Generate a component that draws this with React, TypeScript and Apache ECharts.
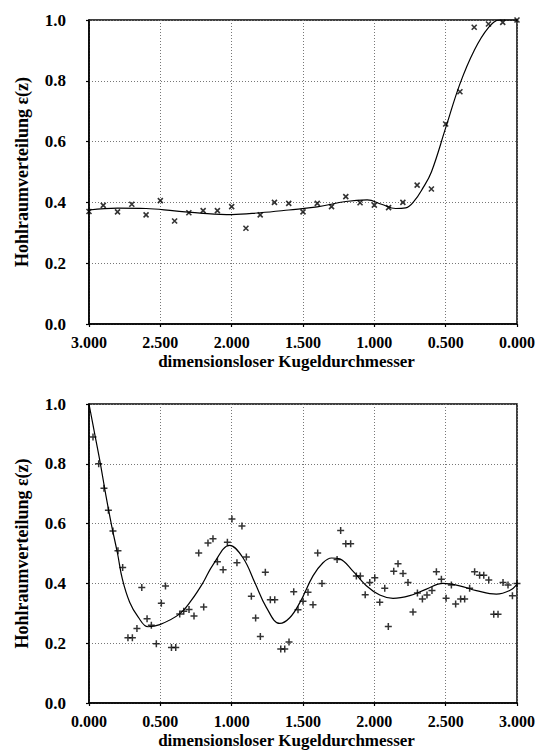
import React, { useEffect, useRef } from "react";
import * as echarts from "echarts";

// ---------- Top chart (distance measured from the wall, axis reversed) ----------
const topDistance = [3.0, 2.9, 2.8, 2.7, 2.6, 2.5, 2.4, 2.3, 2.2, 2.1, 2.0, 1.9, 1.8, 1.7, 1.6, 1.5, 1.4, 1.3, 1.2, 1.1, 1.0, 0.9, 0.8, 0.7, 0.6, 0.5, 0.4, 0.3, 0.2, 0.1, 0.0];
const topVoidage = [0.37, 0.39, 0.369, 0.394, 0.359, 0.406, 0.339, 0.366, 0.373, 0.373, 0.386, 0.315, 0.359, 0.4, 0.397, 0.369, 0.397, 0.386, 0.419, 0.399, 0.391, 0.383, 0.4, 0.457, 0.444, 0.658, 0.764, 0.976, 0.987, 0.992, 1.0];
const topFitX = [3.0, 2.8, 2.6, 2.4, 2.2, 2.0, 1.8, 1.6, 1.4, 1.2, 1.05, 0.95, 0.85, 0.78, 0.72, 0.66, 0.6, 0.5, 0.4, 0.3, 0.2, 0.12, 0.0];
const topFitY = [0.375, 0.381, 0.38, 0.372, 0.364, 0.36, 0.366, 0.375, 0.385, 0.403, 0.408, 0.394, 0.38, 0.382, 0.405, 0.447, 0.5, 0.645, 0.79, 0.9, 0.975, 1.0, 1.0];

// ---------- Bottom chart ----------
const botDistance = [0.028, 0.068, 0.105, 0.136, 0.168, 0.203, 0.236, 0.273, 0.304, 0.336, 0.37, 0.407, 0.437, 0.472, 0.507, 0.536, 0.578, 0.608, 0.636, 0.664, 0.701, 0.736, 0.769, 0.804, 0.834, 0.869, 0.9, 0.94, 0.97, 1.002, 1.037, 1.072, 1.103, 1.138, 1.168, 1.201, 1.236, 1.271, 1.302, 1.344, 1.372, 1.402, 1.435, 1.465, 1.5, 1.535, 1.57, 1.603, 1.633, 1.739, 1.764, 1.8, 1.834, 1.874, 1.902, 1.936, 1.968, 2.003, 2.038, 2.073, 2.098, 2.136, 2.166, 2.201, 2.236, 2.271, 2.302, 2.337, 2.369, 2.404, 2.435, 2.47, 2.503, 2.54, 2.57, 2.605, 2.633, 2.668, 2.703, 2.738, 2.767, 2.802, 2.837, 2.867, 2.902, 2.937, 2.968, 3.0];
const botVoidage = [0.89, 0.8, 0.718, 0.645, 0.575, 0.509, 0.453, 0.218, 0.218, 0.249, 0.386, 0.282, 0.26, 0.198, 0.334, 0.391, 0.186, 0.186, 0.298, 0.307, 0.313, 0.291, 0.502, 0.321, 0.535, 0.549, 0.472, 0.446, 0.538, 0.615, 0.469, 0.592, 0.488, 0.357, 0.284, 0.222, 0.437, 0.345, 0.345, 0.181, 0.181, 0.204, 0.372, 0.312, 0.34, 0.37, 0.329, 0.502, 0.4, 0.48, 0.577, 0.533, 0.533, 0.425, 0.425, 0.362, 0.403, 0.419, 0.337, 0.384, 0.256, 0.441, 0.466, 0.433, 0.403, 0.304, 0.368, 0.348, 0.361, 0.376, 0.439, 0.414, 0.35, 0.395, 0.331, 0.348, 0.348, 0.384, 0.439, 0.427, 0.427, 0.411, 0.297, 0.297, 0.403, 0.395, 0.359, 0.4];
const botFitX = [0.0, 0.04, 0.08, 0.12, 0.16, 0.2, 0.234, 0.285, 0.344, 0.414, 0.496, 0.636, 0.717, 0.8, 0.87, 0.986, 1.08, 1.162, 1.243, 1.337, 1.407, 1.477, 1.57, 1.64, 1.7, 1.757, 1.85, 1.944, 2.038, 2.131, 2.248, 2.365, 2.481, 2.598, 2.715, 2.855, 2.949, 3.0];
const botFitY = [1.0, 0.9, 0.8, 0.69, 0.59, 0.5, 0.414, 0.337, 0.288, 0.255, 0.262, 0.298, 0.343, 0.403, 0.463, 0.527, 0.485, 0.403, 0.32, 0.266, 0.285, 0.335, 0.425, 0.469, 0.485, 0.482, 0.441, 0.392, 0.361, 0.35, 0.359, 0.381, 0.4, 0.392, 0.376, 0.364, 0.376, 0.397];

const xTitle = "dimensionsloser Kugeldurchmesser";
const yTitle = "Hohlraumverteilung ε(z)";

const FONT = "'Liberation Serif', 'Times New Roman', serif";
const CROSS = "path://M0,0L10,10M10,0L0,10";
const PLUS = "path://M5,0L5,10M0,5L10,5";

const zip = (xs: number[], ys: number[]) => xs.map((x, i) => [x, ys[i]]);

function xAxis(gridIndex: number, inverse: boolean) {
  return {
    type: "value",
    gridIndex,
    min: 0,
    max: 3,
    interval: 0.5,
    inverse,
    name: xTitle,
    nameLocation: "middle",
    nameGap: 29,
    nameTextStyle: {
      fontFamily: FONT,
      fontWeight: "bold",
      fontSize: 17,
      color: "#000",
      padding: [0, 33, 0, 0],
    },
    axisLine: { show: true, onZero: false, lineStyle: { color: "#000", width: 1.5 } },
    axisTick: { show: true, inside: false, length: 3, lineStyle: { color: "#000", width: 1.2 } },
    axisLabel: {
      margin: 10,
      fontFamily: FONT,
      fontWeight: "bold",
      fontSize: 16,
      color: "#000",
      formatter: (v: number) => v.toFixed(3),
    },
    splitLine: { show: true, lineStyle: { color: "#777", type: [1, 2], width: 1 } },
  };
}

function yAxis(gridIndex: number) {
  return {
    type: "value",
    gridIndex,
    min: 0,
    max: 1,
    interval: 0.2,
    name: yTitle,
    nameLocation: "middle",
    nameGap: 58,
    nameTextStyle: { fontFamily: FONT, fontWeight: "bold", fontSize: 18, color: "#000" },
    axisLine: { show: true, onZero: false, lineStyle: { color: "#000", width: 1.5 } },
    axisTick: { show: true, inside: false, length: 3, lineStyle: { color: "#000", width: 1.2 } },
    axisLabel: {
      margin: 23,
      fontFamily: FONT,
      fontWeight: "bold",
      fontSize: 17,
      color: "#000",
      formatter: (v: number) => v.toFixed(1),
    },
    splitLine: { show: true, lineStyle: { color: "#777", type: [1, 2], width: 1 } },
  };
}

export default function App() {
  const ref = useRef<HTMLDivElement>(null);
  useEffect(() => {
    if (!ref.current) return;
    const chart = echarts.init(ref.current, null, { renderer: "svg" });
    chart.setOption({
      animation: false,
      backgroundColor: "#fff",
      grid: [
        { left: 89, top: 20, width: 428, height: 304, show: true, borderColor: "#000", borderWidth: 1.5, backgroundColor: "transparent" },
        { left: 89, top: 404, width: 428, height: 303, show: true, borderColor: "#000", borderWidth: 1.5, backgroundColor: "transparent" },
      ],
      xAxis: [xAxis(0, true), xAxis(1, false)],
      yAxis: [yAxis(0), yAxis(1)],
      series: [
        {
          type: "line",
          xAxisIndex: 0,
          yAxisIndex: 0,
          data: zip(topFitX, topFitY),
          smooth: 0.4,
          showSymbol: false,
          lineStyle: { color: "#000", width: 1.2 },
          z: 3,
        },
        {
          type: "scatter",
          xAxisIndex: 0,
          yAxisIndex: 0,
          data: zip(topDistance, topVoidage),
          symbol: CROSS,
          symbolSize: 5,
          itemStyle: { color: "transparent", borderColor: "#000", borderWidth: 1.6 },
          z: 4,
        },
        {
          type: "line",
          xAxisIndex: 1,
          yAxisIndex: 1,
          data: zip(botFitX, botFitY),
          smooth: 0.4,
          showSymbol: false,
          lineStyle: { color: "#000", width: 1.2 },
          z: 3,
        },
        {
          type: "scatter",
          xAxisIndex: 1,
          yAxisIndex: 1,
          data: zip(botDistance, botVoidage),
          symbol: PLUS,
          symbolSize: 7,
          itemStyle: { color: "transparent", borderColor: "#000", borderWidth: 1.5 },
          z: 4,
        },
      ],
    });
    return () => chart.dispose();
  }, []);
  return (
    <div
      ref={ref}
      style={{ position: "fixed", left: 0, top: 0, width: 553, height: 750, background: "#fff" }}
    />
  );
}
